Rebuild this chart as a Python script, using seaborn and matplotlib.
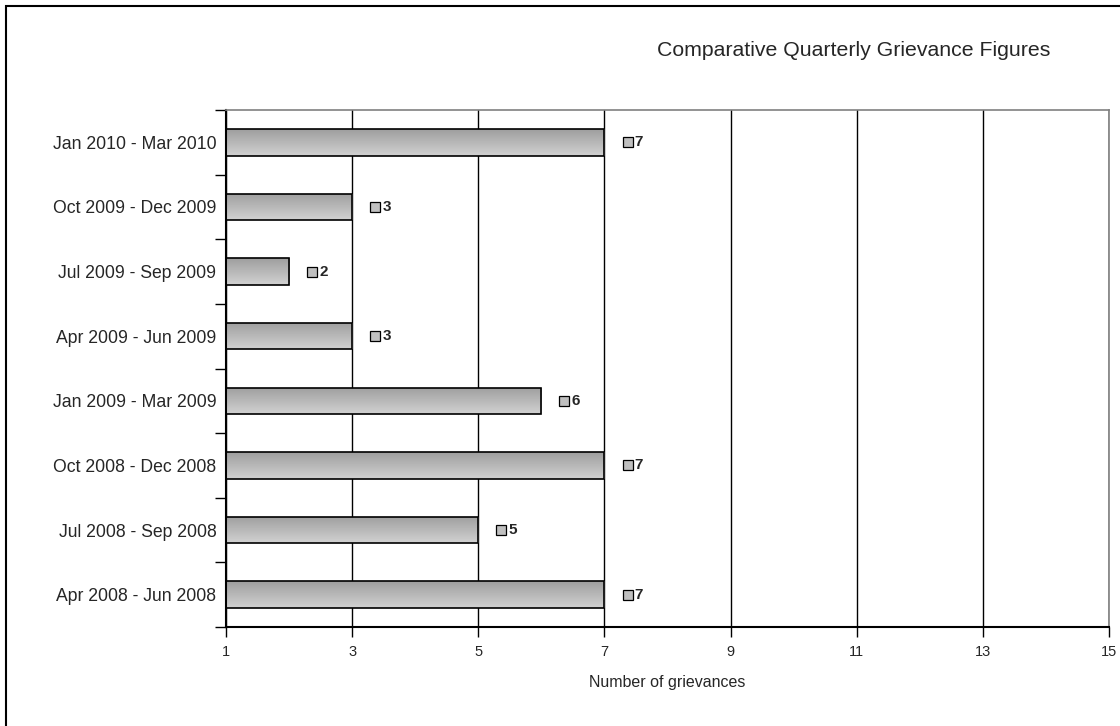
import pandas as pd
import numpy as np
import matplotlib.pyplot as plt
import seaborn as sns
from matplotlib.patches import Rectangle

# 数据
quarters = ['Jan 2010 - Mar 2010', 'Oct 2009 - Dec 2009', 'Jul 2009 - Sep 2009',
            'Apr 2009 - Jun 2009', 'Jan 2009 - Mar 2009', 'Oct 2008 - Dec 2008',
            'Jul 2008 - Sep 2008', 'Apr 2008 - Jun 2008']
grievances = [7, 3, 2, 3, 6, 7, 5, 7]
x_ticks = [1, 3, 5, 7, 9, 11, 13, 15]

df = pd.DataFrame({'Quarter': quarters, 'Grievances': grievances})

sns.set_theme(style='white')
plt.rcParams['font.family'] = ['Liberation Sans', 'DejaVu Sans']

fig = plt.figure(figsize=(11.2, 7.26), dpi=100)
fig.patches.append(Rectangle((6 / 1120, -0.1), 1.2, 1 - 6 / 726 + 0.1,
                             transform=fig.transFigure, fill=False,
                             edgecolor='black', linewidth=1.5))
ax = fig.add_axes([226 / 1120, 1 - 627 / 726, 883 / 1120, 517 / 726])

# 柱子从 1 开始
df['Width'] = df['Grievances'] - 1
sns.barplot(data=df, y='Quarter', x='Width', order=quarters, orient='h',
            color='#b8b8b8', saturation=1, edgecolor='black', linewidth=1.2,
            width=0.41, ax=ax, left=1)

# 渐变填充
grad = np.linspace(0.82, 0.62, 64).reshape(-1, 1)
for p in list(ax.patches):
    x0, y0 = p.get_x(), p.get_y()
    w, h = p.get_width(), p.get_height()
    im = ax.imshow(grad, cmap='gray', vmin=0, vmax=1, aspect='auto',
                   extent=[x0, x0 + w, y0, y0 + h], origin='upper', zorder=p.get_zorder())
    im.set_clip_path(p)
    p.set_zorder(p.get_zorder() + 0.1)
    p.set_facecolor('none')

ax.set_xlim(1, 15)
ax.set_ylim(7.5, -0.5)
ax.set_xticks(x_ticks)
ax.set_xticklabels([str(t) for t in x_ticks], fontsize=10.5)
ax.xaxis.grid(True, color='black', linewidth=1)
ax.set_axisbelow(True)

# y 轴刻度：类别之间
ax.set_yticks(range(len(quarters)))
ax.set_yticklabels(quarters, fontsize=12.7)
ax.set_yticks(np.arange(-0.5, len(quarters), 1), minor=True)
ax.tick_params(axis='y', which='major', length=0, pad=7)
ax.tick_params(axis='y', which='minor', length=8, width=1, color='black', left=True)
ax.tick_params(axis='x', length=7, width=1, color='black', bottom=True, pad=6)

for side in ['left', 'bottom']:
    ax.spines[side].set_color('black')
    ax.spines[side].set_linewidth(1.5)
for side in ['top', 'right']:
    ax.spines[side].set_color('#808080')
    ax.spines[side].set_linewidth(1.2)

ax.set_xlabel('Number of grievances', fontsize=11.5)
ax.xaxis.set_label_coords(0.5, -0.092)
ax.set_ylabel('')

# 数据标签
for i, v in enumerate(grievances):
    ax.plot(v + 0.366, i, marker='s', markersize=6.5, markerfacecolor='#c0c0c0',
            markeredgecolor='black', markeredgewidth=0.9)
    ax.text(v + 0.48, i, str(v), fontsize=11, fontweight='bold', va='center', ha='left')

fig.text(1050 / 1120, 1 - 51 / 726, 'Comparative Quarterly Grievance Figures',
         fontsize=15.3, ha='right', va='center')

plt.savefig('out.png', dpi=100)
